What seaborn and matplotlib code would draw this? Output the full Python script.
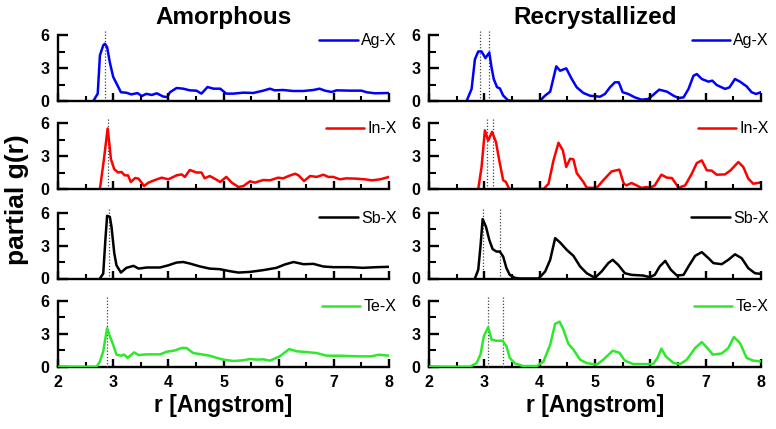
import matplotlib
matplotlib.use("Agg")
import matplotlib.pyplot as plt
from matplotlib.ticker import MultipleLocator
import pandas as pd
import seaborn as sns

# ---- data: r [Angstrom] / partial g(r) ----
# Amorphous
am_ag_r = [2.64, 2.72, 2.76, 2.82, 2.85, 2.89, 2.94, 3.00, 3.06, 3.14, 3.24, 3.33, 3.44, 3.52,
           3.60, 3.70, 3.79, 3.91, 3.98, 4.03, 4.15, 4.27, 4.39, 4.51, 4.60, 4.71, 4.82, 4.94,
           5.05, 5.18, 5.36, 5.54, 5.72, 5.84, 5.93, 6.08, 6.26, 6.45, 6.63, 6.74, 6.84, 6.96,
           7.05, 7.29, 7.50, 7.60, 7.75, 8.00]
am_ag_g = [0.0, 0.67, 4.15, 5.06, 5.2, 4.9, 3.5, 2.2, 1.6, 0.8, 0.75, 0.6, 0.72, 0.45,
           0.65, 0.55, 0.7, 0.4, 0.36, 0.8, 1.18, 1.12, 0.97, 0.94, 0.67, 1.27, 1.12, 1.12,
           0.67, 0.67, 0.76, 0.73, 0.94, 1.12, 0.97, 1.0, 0.91, 0.91, 1.0, 1.12, 0.94, 0.82,
           0.97, 0.94, 0.94, 0.79, 0.7, 0.73]

am_in_r = [2.76, 2.83, 2.90, 2.93, 2.96, 3.02, 3.09, 3.15, 3.21, 3.27, 3.32, 3.40, 3.46, 3.56,
           3.64, 3.76, 3.88, 4.00, 4.15, 4.24, 4.30, 4.39, 4.51, 4.60, 4.66, 4.75, 4.84, 4.94,
           5.05, 5.15, 5.27, 5.36, 5.48, 5.57, 5.72, 5.84, 5.99, 6.08, 6.18, 6.30, 6.36, 6.46,
           6.57, 6.69, 6.81, 6.90, 6.99, 7.11, 7.23, 7.41, 7.56, 7.69, 7.84, 8.00]
am_in_g = [0.0, 2.6, 5.5, 4.15, 2.7, 1.8, 1.5, 1.55, 1.24, 1.24, 0.64, 1.0, 0.94, 0.27,
           0.58, 0.82, 1.03, 0.88, 1.24, 1.33, 1.1, 1.73, 1.5, 1.5, 0.97, 1.18, 0.94, 0.64,
           1.1, 0.58, 0.18, 0.27, 0.7, 0.58, 0.82, 0.79, 1.03, 0.97, 1.18, 1.39, 1.24, 0.73,
           1.18, 1.1, 1.3, 1.1, 1.1, 0.88, 0.97, 0.94, 0.88, 0.79, 0.88, 1.1]

am_sb_r = [2.76, 2.82, 2.86, 2.89, 2.94, 2.97, 3.02, 3.06, 3.14, 3.24, 3.37, 3.46, 3.61, 3.85,
           4.00, 4.15, 4.27, 4.39, 4.57, 4.75, 4.93, 5.12, 5.27, 5.48, 5.72, 5.96, 6.11, 6.27,
           6.45, 6.63, 6.81, 6.99, 7.29, 7.53, 7.77, 8.00]
am_sb_g = [0.0, 0.45, 3.6, 5.7, 5.6, 4.7, 2.3, 1.2, 0.54, 0.97, 1.15, 0.9, 1.0, 1.0,
           1.2, 1.45, 1.5, 1.36, 1.1, 0.9, 0.85, 0.66, 0.54, 0.6, 0.76, 0.97, 1.27, 1.5,
           1.3, 1.33, 1.09, 1.03, 1.03, 0.97, 1.03, 1.06]

am_te_r = [2.00, 2.70, 2.76, 2.82, 2.89, 2.94, 3.00, 3.06, 3.14, 3.20, 3.26, 3.38, 3.46, 3.61,
           3.85, 3.97, 4.12, 4.24, 4.33, 4.45, 4.57, 4.75, 4.88, 5.00, 5.18, 5.36, 5.48, 5.60,
           5.72, 5.84, 6.02, 6.19, 6.33, 6.51, 6.69, 6.87, 7.11, 7.47, 7.68, 7.81, 8.00]
am_te_g = [0.0, 0.0, 0.48, 1.4, 3.5, 2.75, 2.0, 1.1, 1.0, 1.1, 0.8, 1.3, 1.06, 1.12,
           1.12, 1.36, 1.48, 1.7, 1.7, 1.24, 1.15, 1.0, 0.8, 0.64, 0.52, 0.58, 0.7, 0.64,
           0.67, 0.55, 0.94, 1.6, 1.4, 1.33, 1.24, 1.0, 1.0, 0.94, 0.94, 1.09, 1.0]

# Recrystallized
cr_ag_r = [2.68, 2.77, 2.83, 2.89, 2.95, 3.02, 3.09, 3.13, 3.17, 3.23, 3.28, 3.34, 3.42, 3.49,
           4.00, 4.10, 4.19, 4.30, 4.37, 4.48, 4.58, 4.67, 4.79, 4.91, 5.09, 5.18, 5.27, 5.36,
           5.43, 5.50, 5.60, 5.72, 5.84, 5.96, 6.05, 6.16, 6.30, 6.42, 6.51, 6.60, 6.69, 6.78,
           6.84, 6.93, 7.05, 7.12, 7.20, 7.35, 7.43, 7.53, 7.62, 7.74, 7.83, 7.91, 8.00]
cr_ag_g = [0.0, 1.1, 3.8, 4.5, 4.5, 3.9, 4.4, 3.05, 2.0, 1.25, 1.15, 0.5, 0.1, 0.0,
           0.0, 0.5, 0.85, 3.15, 2.75, 2.97, 2.0, 1.24, 0.73, 0.48, 0.39, 0.64, 1.24, 1.7,
           1.7, 0.8, 0.64, 0.33, 0.12, 0.18, 0.55, 1.03, 0.85, 0.48, 0.27, 0.33, 1.1, 2.3,
           2.45, 2.0, 1.76, 1.85, 1.45, 1.1, 1.24, 2.0, 1.76, 1.33, 0.8, 0.64, 0.8]

cr_in_r = [2.89, 2.95, 3.01, 3.07, 3.14, 3.21, 3.27, 3.34, 3.39, 3.45, 4.07, 4.16, 4.25, 4.34,
           4.42, 4.48, 4.55, 4.61, 4.67, 4.79, 4.85, 5.03, 5.15, 5.30, 5.44, 5.52, 5.57, 5.66,
           5.75, 5.84, 5.93, 6.00, 6.08, 6.20, 6.30, 6.39, 6.51, 6.63, 6.75, 6.84, 6.93, 7.02,
           7.11, 7.20, 7.35, 7.45, 7.59, 7.68, 7.77, 7.86, 8.00]
cr_in_g = [0.0, 2.0, 5.33, 4.4, 5.2, 4.27, 2.6, 0.8, 0.64, 0.0, 0.0, 0.48, 2.6, 4.2,
           3.5, 2.0, 2.75, 2.7, 1.45, 0.64, 0.12, 0.1, 0.8, 1.6, 1.76, 0.48, 0.33, 0.55,
           0.33, 0.1, 0.18, 0.12, 0.33, 1.3, 1.03, 1.0, 0.12, 0.33, 1.4, 2.36, 2.6, 1.7,
           1.67, 1.3, 1.33, 1.7, 2.45, 2.0, 0.94, 0.48, 0.6]

cr_sb_r = [2.83, 2.89, 2.93, 2.97, 3.03, 3.09, 3.15, 3.22, 3.28, 3.34, 3.40, 3.46, 3.55, 3.64,
           3.98, 4.10, 4.19, 4.28, 4.37, 4.49, 4.61, 4.73, 4.85, 5.00, 5.12, 5.24, 5.32, 5.42,
           5.54, 5.66, 5.87, 5.99, 6.08, 6.17, 6.27, 6.37, 6.48, 6.60, 6.69, 6.81, 6.93, 7.05,
           7.14, 7.29, 7.41, 7.53, 7.65, 7.77, 7.89, 8.00]
cr_sb_g = [0.0, 0.8, 2.9, 5.4, 4.7, 3.5, 2.67, 2.45, 2.45, 2.0, 0.94, 0.33, 0.06, 0.0,
           0.0, 0.64, 1.7, 3.67, 3.27, 2.6, 2.06, 1.1, 0.48, 0.06, 0.64, 1.4, 1.7, 1.24,
           0.48, 0.33, 0.27, 0.12, 0.33, 1.1, 1.6, 0.8, 0.27, 0.33, 1.1, 2.06, 2.4, 1.85,
           1.4, 1.3, 1.7, 2.2, 1.85, 0.94, 0.48, 0.42]

cr_te_r = [2.00, 2.74, 2.86, 2.93, 2.99, 3.07, 3.13, 3.22, 3.33, 3.40, 3.46, 3.55, 3.70, 3.95,
           4.07, 4.19, 4.28, 4.36, 4.43, 4.52, 4.61, 4.73, 4.85, 5.03, 5.15, 5.32, 5.44, 5.54,
           5.69, 5.87, 6.05, 6.13, 6.20, 6.28, 6.42, 6.54, 6.66, 6.81, 6.93, 7.03, 7.13, 7.29,
           7.41, 7.51, 7.62, 7.74, 7.86, 8.00]
cr_te_g = [0.0, 0.0, 0.33, 1.1, 2.75, 3.6, 2.45, 2.36, 2.36, 1.85, 0.8, 0.3, 0.06, 0.06,
           0.48, 2.0, 3.9, 4.1, 3.36, 2.06, 1.55, 0.64, 0.33, 0.18, 0.64, 1.45, 1.27, 0.55,
           0.24, 0.24, 0.24, 0.8, 1.64, 0.94, 0.33, 0.24, 0.64, 1.7, 2.24, 1.7, 1.1, 1.2,
           1.7, 2.7, 2.15, 0.8, 0.55, 0.48]

# first-neighbour peak markers (dotted lines)
am_peaks = [[2.85], [2.905], [2.92], [2.89]]
cr_peaks = [[2.92, 3.08], [3.04, 3.16], [2.97, 3.28], [3.07, 3.34]]

labels = ["Ag-X", "In-X", "Sb-X", "Te-X"]
colors = ["#0000ff", "#ff0000", "#000000", "#2ee82e"]
column_titles = ["Amorphous", "Recrystallized"]

series = [
    [(am_ag_r, am_ag_g), (am_in_r, am_in_g), (am_sb_r, am_sb_g), (am_te_r, am_te_g)],
    [(cr_ag_r, cr_ag_g), (cr_in_r, cr_in_g), (cr_sb_r, cr_sb_g), (cr_te_r, cr_te_g)],
]
peaks = [am_peaks, cr_peaks]

sns.set_theme(style="ticks")
plt.rcParams["font.family"] = ["Liberation Sans", "DejaVu Sans"]
for key in ["axes.edgecolor", "xtick.color", "ytick.color", "text.color",
            "axes.labelcolor"]:
    plt.rcParams[key] = "black"

W, H = 776, 429
fig = plt.figure(figsize=(W / 100, H / 100), dpi=100)

col_left = [58, 429]
col_width = [331, 332]
row_bottom = [101, 189, 278.5, 366.7]
ymax = 6.4
ax_h = 11.0 * ymax

for c in range(2):
    for r in range(4):
        rect = [col_left[c] / W, 1 - row_bottom[r] / H, col_width[c] / W, ax_h / H]
        ax = fig.add_axes(rect)
        xs, ys = series[c][r]
        df = pd.DataFrame({"r": xs, "g": ys})
        is_te = labels[r] == "Te-X"
        sns.lineplot(data=df, x="r", y="g", ax=ax, color=colors[r], lw=1.8,
                     sort=False, estimator=None, label=labels[r],
                     zorder=2.8 if is_te else 2.0)
        ax.vlines(peaks[c][r], 0, 6.35, colors="#444444", linestyles=(0, (1, 1.5)),
                  lw=0.9, zorder=1.8, clip_on=False)

        ax.set_xlim(2, 8)
        ax.set_ylim(0, ymax)
        ax.set_axisbelow(False)
        for s in ["top", "right"]:
            ax.spines[s].set_visible(False)
        ax.spines["left"].set_bounds(0, 6)
        ax.spines["left"].set_linewidth(1.7)
        ax.spines["bottom"].set_linewidth(1.7)
        if is_te:
            ax.spines["bottom"].set_zorder(1.0)
        ax.xaxis.set_major_locator(MultipleLocator(1))
        ax.xaxis.set_minor_locator(MultipleLocator(0.5))
        ax.set_yticks([0, 3, 6])
        ax.set_yticks([1.5, 4.5], minor=True)
        ax.tick_params(axis="x", which="major", direction="in", length=6, width=1.7,
                       pad=6, labelsize=11.5)
        ax.tick_params(axis="x", which="minor", direction="in", length=3.5, width=1.5)
        ax.tick_params(axis="y", which="major", direction="in", length=7, width=1.7,
                       pad=6, labelsize=11.5)
        ax.tick_params(axis="y", which="minor", direction="in", length=5, width=1.5)
        for t in ax.get_xticklabels() + ax.get_yticklabels():
            t.set_fontweight("bold")
        ax.set_ylabel("")
        ax.set_xlabel("")
        if r < 3:
            ax.tick_params(axis="x", labelbottom=False)
        else:
            ax.set_xlabel("r [Angstrom]", fontsize=16.5, fontweight="bold", labelpad=3)
        if r == 0:
            ax.set_title(column_titles[c], fontsize=17.5, fontweight="bold", pad=5)
        ax.legend(loc="upper right", frameon=False, fontsize=11.5, handlelength=2.4,
                  handletextpad=0.2, borderaxespad=0, bbox_to_anchor=(1.042, 1.05))

fig.text(0.022, 0.535, "partial g(r)", rotation=90, ha="center", va="center",
         fontsize=19, fontweight="bold")

fig.savefig("out.png", dpi=100)
